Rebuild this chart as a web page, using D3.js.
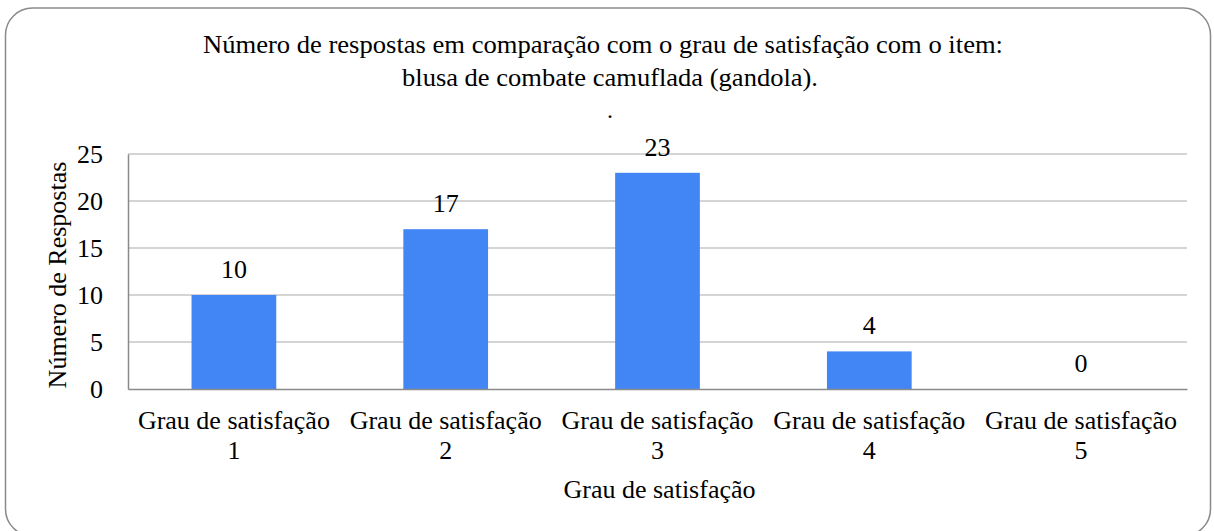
<!DOCTYPE html>
<html>
<head>
<meta charset="utf-8">
<script src="https://cdn.jsdelivr.net/npm/d3@7"></script>
<style>
  body { margin: 0; background: #fff; }
</style>
</head>
<body>
<div id="chart"></div>
<script>
// chart data
var categories = ["Grau de satisfação 1", "Grau de satisfação 2", "Grau de satisfação 3", "Grau de satisfação 4", "Grau de satisfação 5"];
var categoryLines = [["Grau de satisfação", "1"], ["Grau de satisfação", "2"], ["Grau de satisfação", "3"], ["Grau de satisfação", "4"], ["Grau de satisfação", "5"]];
var responses = [10, 17, 23, 4, 0];
var yTicks = [0, 5, 10, 15, 20, 25];

var FONT = "Liberation Serif";

var svgWidth = 1214;
var svgHeight = 531;

var margin = { top: 154, right: 27, bottom: 142, left: 128 };
var width = svgWidth - margin.left - margin.right;
var height = svgHeight - margin.top - margin.bottom;

var svg = d3.select("#chart")
  .append("svg")
  .attr("width", svgWidth)
  .attr("height", svgHeight);

// outer rounded frame
svg.append("rect")
  .attr("x", 5.5)
  .attr("y", 8)
  .attr("width", 1205)
  .attr("height", 528)
  .attr("rx", 27)
  .attr("fill", "#fff")
  .attr("stroke", "#8a8a8a")
  .attr("stroke-width", 1.5);

// title (narrowed to the width it has in the original)
svg.append("text")
  .attr("x", 203).attr("y", 53)
  .attr("textLength", 800)
  .attr("lengthAdjust", "spacingAndGlyphs")
  .style("font-family", FONT)
  .style("font-size", "26px")
  .text("Número de respostas em comparação com o grau de satisfação com o item:");
svg.append("text")
  .attr("x", 402).attr("y", 86)
  .attr("textLength", 416)
  .attr("lengthAdjust", "spacingAndGlyphs")
  .style("font-family", FONT)
  .style("font-size", "26px")
  .text("blusa de combate camuflada (gandola).");
svg.append("text")
  .attr("x", 610).attr("y", 118)
  .attr("text-anchor", "middle")
  .style("font-family", FONT)
  .style("font-size", "24px")
  .text(".");

var chartGroup = svg.append("g")
  .attr("transform", `translate(${margin.left}, ${margin.top})`);

var xScale = d3.scaleBand()
  .domain(categories)
  .range([0, width])
  .paddingInner(0.6)
  .paddingOuter(0.3);

var yScale = d3.scaleLinear()
  .domain([0, 25])
  .range([height, 0]);

// gridlines
chartGroup.selectAll("line.grid")
  .data(yTicks.filter(d => d > 0))
  .enter()
  .append("line")
  .attr("class", "grid")
  .attr("x1", 0)
  .attr("x2", width)
  .attr("y1", d => yScale(d))
  .attr("y2", d => yScale(d))
  .attr("stroke", "#c6c6c6")
  .attr("stroke-width", 1.3);

// bars
chartGroup.selectAll("rect.bar")
  .data(responses)
  .enter()
  .append("rect")
  .attr("class", "bar")
  .attr("x", (d, i) => xScale(categories[i]))
  .attr("y", d => yScale(d))
  .attr("width", xScale.bandwidth())
  .attr("height", d => height - yScale(d))
  .attr("fill", "#4285f4");

// value labels
chartGroup.selectAll("text.value")
  .data(responses)
  .enter()
  .append("text")
  .attr("class", "value")
  .attr("text-anchor", "middle")
  .style("font-family", FONT)
  .style("font-size", "26px")
  .attr("x", (d, i) => xScale(categories[i]) + xScale.bandwidth() / 2)
  .attr("y", d => yScale(d) - 17)
  .text(d => d);

// y axis
var leftAxis = d3.axisLeft(yScale).tickValues(yTicks).tickSize(0).tickPadding(25);
var yAxisG = chartGroup.append("g").call(leftAxis);
yAxisG.select(".domain").attr("stroke", "#8a8a8a").attr("stroke-width", 1.5);
yAxisG.selectAll("text")
  .style("font-family", FONT)
  .style("font-size", "26px")
  .attr("dy", "0.34em")
  .attr("fill", "#000");

// x axis
var bottomAxis = d3.axisBottom(xScale).tickSize(0).tickFormat("");
var xAxisG = chartGroup.append("g")
  .attr("transform", `translate(0, ${height})`)
  .call(bottomAxis);
xAxisG.select(".domain").attr("stroke", "#8a8a8a").attr("stroke-width", 1.5);

var catLabels = chartGroup.selectAll("text.cat")
  .data(categoryLines)
  .enter()
  .append("text")
  .attr("class", "cat")
  .attr("text-anchor", "middle")
  .style("font-family", FONT)
  .style("font-size", "26px")
  .attr("transform", (d, i) => `translate(${xScale(categories[i]) + xScale.bandwidth() / 2}, ${height + 40})`);
catLabels.selectAll("tspan")
  .data(d => d)
  .enter()
  .append("tspan")
  .attr("x", 0)
  .attr("y", (d, i) => i * 30)
  .text(d => d);

// axis titles
chartGroup.append("text")
  .attr("transform", "rotate(-90)")
  .attr("x", -121)
  .attr("y", -62)
  .attr("text-anchor", "middle")
  .style("font-family", FONT)
  .style("font-size", "26px")
  .text("Número de Respostas");

chartGroup.append("text")
  .attr("x", width / 2 + 2)
  .attr("y", height + 109)
  .attr("text-anchor", "middle")
  .style("font-family", FONT)
  .style("font-size", "26px")
  .text("Grau de satisfação");
</script>
</body>
</html>
